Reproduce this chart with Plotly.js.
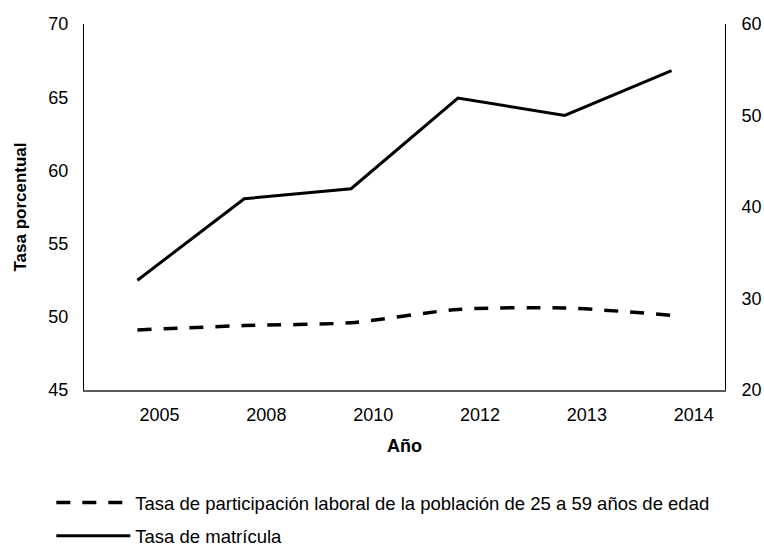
<!DOCTYPE html>
<html>
<head>
<meta charset="utf-8">
<script src="https://cdn.plot.ly/plotly-3.0.1.min.js"></script>
<style>
  html, body { margin: 0; padding: 0; background: #ffffff; }
  #chart { width: 764px; height: 547px; }
</style>
</head>
<body>
<div id="chart"></div>
<script>
// Data
const years = ['2005', '2008', '2010', '2012', '2013', '2014'];
const participacionLaboral = [49.1, 49.4, 49.6, 50.5, 50.6, 50.1]; // left axis
const tasaMatricula = [32.0, 40.9, 42.0, 51.9, 50.0, 54.9];        // right axis
const nameParticipacion = 'Tasa de participación laboral de la población de 25 a 59 años de edad';
const nameMatricula = 'Tasa de matrícula';
const leftTicks = [45, 50, 55, 60, 65, 70];
const rightTicks = [20, 30, 40, 50, 60];

const FONT = 'Liberation Sans, Arial, sans-serif';

const traces = [
  {
    x: years, y: participacionLaboral, name: nameParticipacion,
    type: 'scatter', mode: 'lines', xaxis: 'x', yaxis: 'y',
    line: { color: '#000000', width: 3.5, dash: '14px,12px', shape: 'spline', smoothing: 0.8 },
    legendgroup: 'a'
  },
  {
    x: years, y: tasaMatricula, name: nameMatricula,
    type: 'scatter', mode: 'lines', xaxis: 'x', yaxis: 'y2',
    line: { color: '#000000', width: 3 },
    legendgroup: 'b'
  },
  {
    // label carrier for the category tick labels (no visible marks)
    x: years, y: years.map(() => null), xaxis: 'x2', yaxis: 'y',
    type: 'scatter', mode: 'lines', showlegend: false, hoverinfo: 'skip'
  }
];

const shift = 0.207;
const layout = {
  width: 764, height: 547,
  paper_bgcolor: '#ffffff', plot_bgcolor: '#ffffff',
  margin: { l: 84, r: 39, t: 24, b: 157, autoexpand: false },
  font: { family: FONT, size: 18, color: '#000000' },
  showlegend: true,
  legend: {
    x: -0.051, xanchor: 'left', y: -0.257, yanchor: 'top',
    font: { family: FONT, size: 18.5, color: '#000000' },
    traceorder: 'grouped', tracegroupgap: 6,
    itemwidth: 74, bgcolor: 'rgba(0,0,0,0)', borderwidth: 0
  },
  xaxis: {
    type: 'category', categoryorder: 'array', categoryarray: years,
    range: [-0.5, 5.5], showticklabels: false, ticks: '',
    showline: true, linecolor: '#595959', linewidth: 1.5,
    showgrid: false, zeroline: false, fixedrange: true, automargin: false
  },
  xaxis2: {
    type: 'category', categoryorder: 'array', categoryarray: years,
    overlaying: 'x', anchor: 'y', side: 'bottom',
    range: [-0.5 - shift, 5.5 - shift],
    tickvals: years, ticktext: years, ticks: '', showline: false,
    showgrid: false, zeroline: false, automargin: false,
    tickfont: { family: FONT, size: 18, color: '#000000' },
    ticklabelstandoff: 12,
    title: { text: '<b>Año</b>', font: { family: FONT, size: 18, color: '#000000' }, standoff: 15 }
  },
  yaxis: {
    range: [45, 70], tickvals: leftTicks, ticks: '',
    showline: true, linecolor: '#000000', linewidth: 1,
    showgrid: false, zeroline: false, automargin: false,
    tickfont: { family: FONT, size: 18, color: '#000000' },
    ticklabelstandoff: 11,
    title: { text: '<b>Tasa porcentual</b>', font: { family: FONT, size: 17, color: '#000000' }, standoff: 17 }
  },
  yaxis2: {
    range: [20, 60], tickvals: rightTicks, ticks: '',
    overlaying: 'y', side: 'right', anchor: 'x',
    showline: true, linecolor: '#000000', linewidth: 1,
    showgrid: false, zeroline: false, automargin: false,
    tickfont: { family: FONT, size: 18, color: '#000000' },
    ticklabelstandoff: 12
  }
};

Plotly.newPlot('chart', traces, layout, { displayModeBar: false, staticPlot: true });
</script>
</body>
</html>
